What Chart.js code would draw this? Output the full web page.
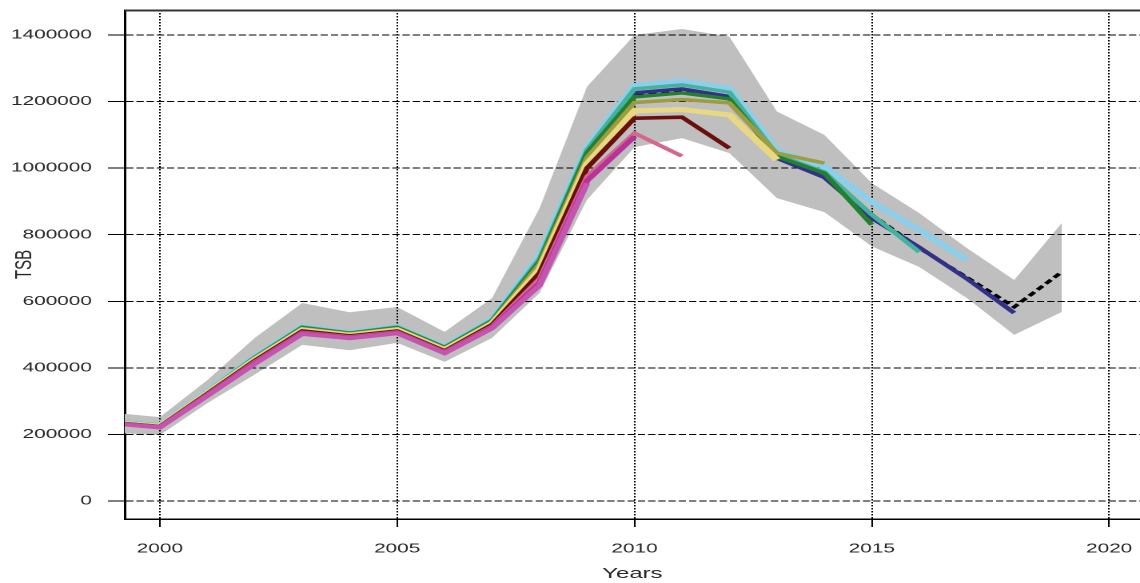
<!DOCTYPE html>
<html>
<head>
<meta charset="utf-8">
<script src="https://cdn.jsdelivr.net/npm/chart.js@4.4.1/dist/chart.umd.min.js"></script>
<style>
  html, body { margin: 0; padding: 0; background: #fff; overflow: hidden; }
  /* the reference is horizontally stretched, so draw narrow and stretch */
  #wrap { width: 713px; height: 583px; transform: scaleX(1.59888); transform-origin: 0 0; }
</style>
</head>
<body>
<div id="wrap"><canvas id="tsb" width="713" height="583"></canvas></div>
<script>
// Years of the assessment
const years = [1999, 2000, 2001, 2002, 2003, 2004, 2005, 2006, 2007, 2008, 2009,
               2010, 2011, 2012, 2013, 2014, 2015, 2016, 2017, 2018, 2019];

// Confidence band of the final run
const bandUpper = [265000, 252000, 363000, 490000, 595000, 567000, 583000, 508000, 610000, 880000, 1245000,
                   1400000, 1418000, 1395000, 1170000, 1100000, 955000, 865000, 760000, 664000, 835000];
const bandLower = [205000, 198000, 294000, 380000, 469000, 453000, 475000, 418000, 490000, 625000, 905000,
                   1063000, 1090000, 1045000, 910000, 868000, 765000, 703000, 610000, 499000, 568000];

// Retrospective runs, named by terminal year
const tsb2019 = [238000, 226000, 325000, 425000, 515000, 500000, 515000, 455000, 535000, 700000, 1030000,
                 1220000, 1232000, 1210000, 1035000, 975000, 860000, 760000, 672000, 583000, 688000];
const tsb2018 = [238000, 226000, 326000, 427000, 517000, 501000, 517000, 456000, 537000, 705000, 1042000,
                 1226000, 1238000, 1215000, 1030000, 972000, 850000, 762000, 668000, 565000];
const tsb2017 = [240000, 228000, 330000, 433000, 524000, 506000, 524000, 463000, 546000, 735000, 1060000,
                 1248000, 1262000, 1240000, 1052000, 1005000, 898000, 814000, 724000];
const tsb2016 = [240000, 228000, 329000, 432000, 523000, 505000, 523000, 462000, 544000, 728000, 1055000,
                 1238000, 1250000, 1228000, 1040000, 988000, 860000, 748000];
const tsb2015 = [239000, 227000, 328000, 430000, 521000, 504000, 521000, 461000, 541000, 720000, 1046000,
                 1214000, 1226000, 1208000, 1035000, 985000, 830000];
const tsb2014 = [238000, 226000, 327000, 428000, 518000, 502000, 518000, 458000, 538000, 712000, 1032000,
                 1197000, 1206000, 1196000, 1045000, 1015000];
const tsb2013 = [237000, 225000, 325000, 425000, 514000, 498000, 514000, 454000, 533000, 695000, 1012000,
                 1172000, 1176000, 1160000, 1025000];
const tsb2012 = [236000, 224000, 323000, 422000, 511000, 496000, 511000, 451000, 530000, 685000, 1000000,
                 1150000, 1153000, 1060000];
const tsb2011 = [235000, 223000, 320000, 418000, 507000, 493000, 508000, 448000, 525000, 668000, 975000,
                 1105000, 1036000];
const tsb2010 = [234000, 222000, 318000, 415000, 505000, 491000, 506000, 446000, 522000, 655000, 962000,
                 1095000];
const tsb2009 = [233000, 221000, 316000, 412000, 502000, 489000, 504000, 444000, 519000, 648000, 955000];

// Axis ticks
const xTicks = [2000, 2005, 2010, 2015, 2020];
const yTicks = [0, 200000, 400000, 600000, 800000, 1000000, 1200000, 1400000];

function points(vals) {
    return vals.map((v, i) => ({ x: years[i], y: v }));
}

function run(label, vals, color, width, order, dash) {
    return {
        label: label,
        data: points(vals),
        borderColor: color,
        borderWidth: width,
        borderDash: dash || [],
        pointRadius: 0,
        fill: false,
        order: order
    };
}

// Redraw the grid right after the band, so it sits over the grey but under the lines,
// and close the frame along the top
const gridOverBand = {
    id: 'gridOverBand',
    afterDatasetDraw(chart, args) {
        if (chart.data.datasets[args.index].label !== 'band lower') return;
        chart.scales.x.drawGrid(chart.chartArea);
        chart.scales.y.drawGrid(chart.chartArea);
    },
    afterDraw(chart) {
        const { ctx, chartArea } = chart;
        ctx.save();
        ctx.strokeStyle = '#333';
        ctx.lineWidth = 2;
        ctx.setLineDash([]);
        ctx.beginPath();
        ctx.moveTo(chartArea.left, chartArea.top + 0.5);
        ctx.lineTo(chartArea.right, chartArea.top + 0.5);
        ctx.stroke();
        ctx.restore();
    }
};

// no extra room for half tick labels at the ends of the axes
function noEdgePadding(s) {
    s.paddingTop = 0;
    s.paddingBottom = 0;
    s.paddingLeft = 0;
    s.paddingRight = 0;
}

Chart.defaults.font.family = '"Liberation Sans", Arial, sans-serif';

new Chart(document.getElementById('tsb'), {
    type: 'line',
    data: {
        datasets: [
            { label: 'band upper', data: points(bandUpper), borderWidth: 0, pointRadius: 0,
              backgroundColor: '#BFBFBF', fill: false, order: 101 },
            { label: 'band lower', data: points(bandLower), borderWidth: 0, pointRadius: 0,
              backgroundColor: '#BFBFBF', fill: '-1', order: 100 },
            run('2019', tsb2019, '#000000', 3, 50, [5, 3]),
            run('2018', tsb2018, '#33308A', 3.5, 49),
            run('2017', tsb2017, '#8CCFEA', 5, 48),
            run('2016', tsb2016, '#45B2A0', 3.5, 47),
            run('2015', tsb2015, '#22802F', 3.5, 46),
            run('2014', tsb2014, '#9D9C3E', 3.5, 45),
            run('2013', tsb2013, '#E8D883', 5, 44),
            run('2012', tsb2012, '#6A0E0E', 3.5, 43),
            run('2011', tsb2011, '#D4678F', 3.5, 42),
            run('2010', tsb2010, '#B8329A', 4, 41),
            run('2009', tsb2009, '#C454B0', 4, 40)
        ]
    },
    options: {
        responsive: false,
        devicePixelRatio: 2,
        animation: false,
        layout: { padding: { top: 10, right: 0, bottom: 0, left: 0 } },
        plugins: {
            legend: { display: false },
            tooltip: { enabled: false }
        },
        elements: { line: { tension: 0 } },
        scales: {
            x: {
                type: 'linear',
                min: 1999.26,
                max: 2020.65,
                afterBuildTicks: s => { s.ticks = xTicks.map(v => ({ value: v })); },
                afterFit: s => { s.height = 64; noEdgePadding(s); },
                grid: { color: '#000', lineWidth: 1, tickLength: 8, tickColor: '#000', tickWidth: 1 },
                border: { display: true, color: '#000', width: 1.5, dash: [1.5, 1.5] },
                ticks: { color: '#262626', font: { size: 13 }, padding: 14, autoSkip: false,
                         maxRotation: 0, callback: v => String(v) },
                title: { display: true, text: 'Years', color: '#262626', font: { size: 15 },
                         padding: { top: 0, bottom: 0 } }
            },
            y: {
                type: 'linear',
                min: -54000,
                max: 1475000,
                afterBuildTicks: s => { s.ticks = yTicks.map(v => ({ value: v })); },
                afterFit: s => { s.width = 78; noEdgePadding(s); },
                grid: { color: '#000', lineWidth: 1, tickLength: 10.5, tickColor: '#000', tickWidth: 1 },
                border: { display: true, color: '#000', width: 1.5, dash: [4.4, 2] },
                ticks: { color: '#262626', font: { size: 13 }, padding: 10, autoSkip: false,
                         callback: v => String(v) },
                title: { display: true, text: 'TSB', color: '#262626', font: { size: 15 },
                         padding: { top: 6.5, bottom: 0 } }
            }
        }
    },
    plugins: [gridOverBand]
});
</script>
</body>
</html>
